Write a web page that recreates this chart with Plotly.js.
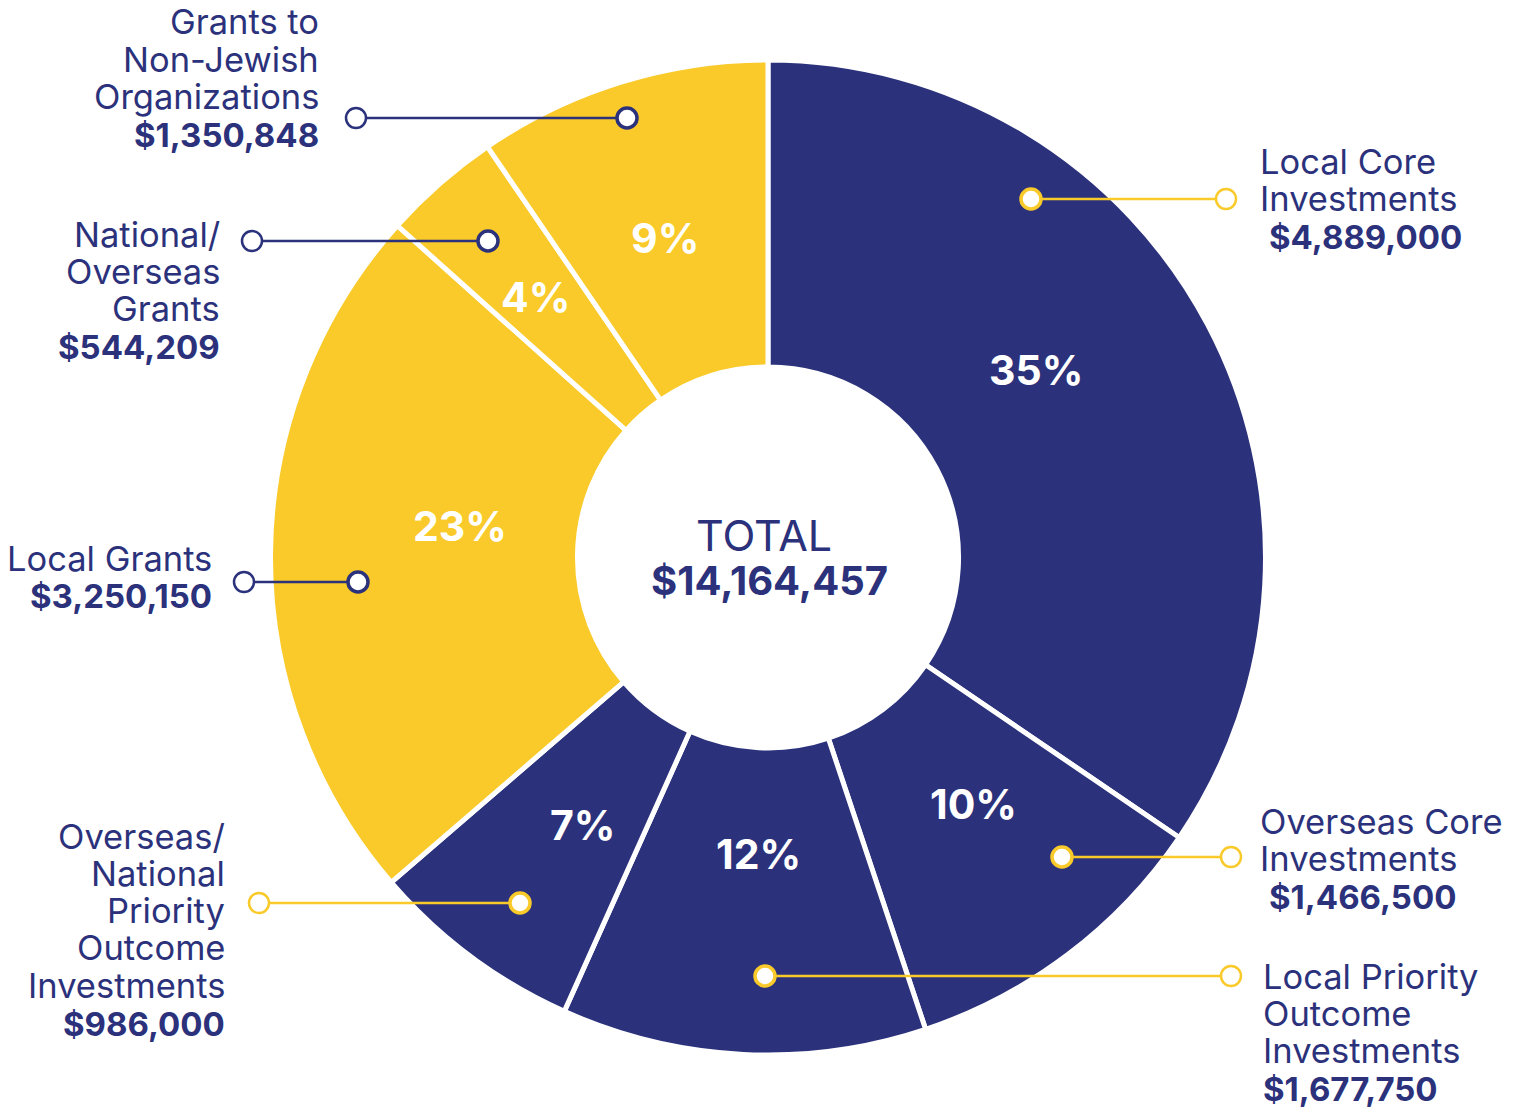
<!DOCTYPE html>
<html>
<head>
<meta charset="utf-8">
<script src="https://cdn.plot.ly/plotly-3.0.1.min.js"></script>
<style>
  html, body { margin: 0; padding: 0; background: #ffffff; }
  #chart { width: 1515px; height: 1108px; }
</style>
</head>
<body>
<div id="chart"></div>
<script>
// ---------- data ----------
const categories = [
  "Local Core Investments",
  "Overseas Core Investments",
  "Local Priority Outcome Investments",
  "Overseas/ National Priority Outcome Investments",
  "Local Grants",
  "National/ Overseas Grants",
  "Grants to Non-Jewish Organizations"
];
const values = [4889000, 1466500, 1677750, 986000, 3250150, 544209, 1350848];
const pctLabels = ["35%", "10%", "12%", "7%", "23%", "4%", "9%"];
const labelLines = [
  ["Local Core", "Investments"],
  ["Overseas Core", "Investments"],
  ["Local Priority", "Outcome", "Investments"],
  ["Overseas/", "National", "Priority", "Outcome", "Investments"],
  ["Local Grants"],
  ["National/", "Overseas", "Grants"],
  ["Grants to", "Non-Jewish", "Organizations"]
];
const totalLabel = "TOTAL";

// ---------- styles ----------
const NAVY = "#2b327b";
const YELLOW = "#f9ca2a";
const sliceColors = [NAVY, NAVY, NAVY, NAVY, YELLOW, YELLOW, YELLOW];
const leaderColors = [YELLOW, YELLOW, YELLOW, YELLOW, NAVY, NAVY, NAVY];
const FONT = "Inter, 'Open Sans', sans-serif";

const W = 1515, H = 1108;
const px = x => x / W;
const py = y => 1 - y / H;

// callout layout (pixel positions)
const callouts = [
  {inner: [1031, 199], outer: [1226, 199], tx: 1258, amtx: 1267, y0: 161, align: "left"},
  {inner: [1062, 857], outer: [1231, 857], tx: 1258, amtx: 1267, y0: 821, align: "left"},
  {inner: [765, 976],  outer: [1231, 976], tx: 1261, amtx: 1261, y0: 976, align: "left"},
  {inner: [520, 903],  outer: [259, 903],  tx: 227,  amtx: 227,  y0: 836, align: "right"},
  {inner: [358, 582],  outer: [244, 582],  tx: 214,  amtx: 214,  y0: 558, align: "right"},
  {inner: [488, 241],  outer: [252, 241],  tx: 222,  amtx: 222,  y0: 234, align: "right"},
  {inner: [627, 118],  outer: [356, 118],  tx: 321,  amtx: 321,  y0: 22,  align: "right"}
];
// percent label centres (pixel positions)
const pctPos = [[1036, 370], [973, 804], [758, 854], [582, 825], [460, 526], [535, 297], [665, 238]];
const LINE = 37.3;

const fmtMoney = v => "$" + v.toLocaleString("en-US");
const total = values.reduce((a, b) => a + b, 0);

// ---------- pie ----------
const cx = 768, cy = 557.5, R = 497.5;
const trace = {
  type: "pie",
  labels: categories,
  values: values,
  textinfo: "none",
  sort: false,
  direction: "clockwise",
  rotation: 0,
  hole: 0.383,
  marker: {colors: sliceColors, line: {color: "#ffffff", width: 5}},
  domain: {x: [px(cx - R), px(cx + R)], y: [py(cy + R), py(cy - R)]},
  hoverinfo: "label+value+percent",
  showlegend: false
};

// ---------- annotations & shapes ----------
const annotations = [];
const shapes = [];
callouts.forEach((c, i) => {
  const lines = labelLines[i];
  lines.forEach((t, k) => {
    annotations.push({
      xref: "paper", yref: "paper", x: px(c.tx), y: py(c.y0 + k * LINE),
      xanchor: c.align, yanchor: "middle", showarrow: false, align: c.align,
      text: t, font: {family: FONT, size: 34.5, color: NAVY}
    });
  });
  annotations.push({
    xref: "paper", yref: "paper", x: px(c.amtx), y: py(c.y0 + lines.length * LINE + 1),
    xanchor: c.align, yanchor: "middle", showarrow: false, align: c.align,
    text: "<b>" + fmtMoney(values[i]) + "</b>",
    font: {family: FONT, size: 33, color: NAVY, weight: 800}
  });
  const col = leaderColors[i];
  shapes.push({
    type: "line", xref: "paper", yref: "paper", layer: "above",
    x0: px(c.inner[0]), y0: py(c.inner[1]), x1: px(c.outer[0]), y1: py(c.outer[1]),
    line: {color: col, width: 2.5}
  });
  const r = 10;
  [[c.inner, 3.5], [c.outer, 2.5]].forEach(([p, w]) => {
    shapes.push({
      type: "circle", xref: "paper", yref: "paper", layer: "above",
      x0: px(p[0] - r), x1: px(p[0] + r), y0: py(p[1] + r), y1: py(p[1] - r),
      fillcolor: "#ffffff", line: {color: col, width: w}
    });
  });
});

pctLabels.forEach((t, i) => {
  annotations.push({
    xref: "paper", yref: "paper", x: px(pctPos[i][0]), y: py(pctPos[i][1]),
    xanchor: "center", yanchor: "middle", showarrow: false,
    text: "<b>" + t + "</b>",
    font: {family: FONT, size: 41, color: "#ffffff", weight: 800}
  });
});

annotations.push({
  xref: "paper", yref: "paper", x: px(764), y: py(535),
  xanchor: "center", yanchor: "middle", showarrow: false,
  text: totalLabel, font: {family: FONT, size: 43, color: NAVY}
});
annotations.push({
  xref: "paper", yref: "paper", x: px(769), y: py(580),
  xanchor: "center", yanchor: "middle", showarrow: false,
  text: "<b>" + fmtMoney(total) + "</b>",
  font: {family: FONT, size: 40, color: NAVY, weight: 800}
});

const layout = {
  width: W, height: H,
  margin: {l: 0, r: 0, t: 0, b: 0},
  paper_bgcolor: "#ffffff",
  plot_bgcolor: "#ffffff",
  showlegend: false,
  annotations: annotations,
  shapes: shapes
};

Plotly.newPlot("chart", [trace], layout, {displayModeBar: false, staticPlot: true});
</script>
</body>
</html>
